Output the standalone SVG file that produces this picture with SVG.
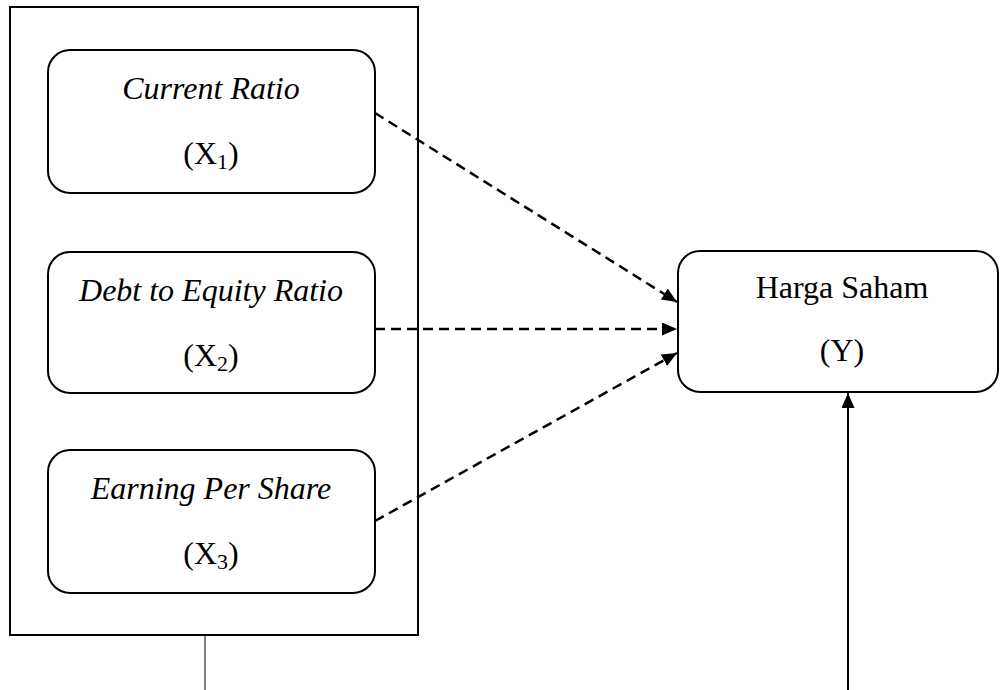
<svg xmlns="http://www.w3.org/2000/svg" width="1001" height="690" viewBox="0 0 1001 690">
<style>
.box{fill:#fff;stroke:#000;stroke-width:2}
.t{font-family:"Liberation Serif","Times New Roman",serif;font-size:32px;fill:#000;text-anchor:middle}
.i{font-style:italic}
.dash{stroke:#000;stroke-width:2.5;stroke-dasharray:10,6;fill:none}
.solid{stroke:#000;stroke-width:2;fill:none}
</style>
<defs>
<marker id="ah" viewBox="0 0 15 13" refX="15" refY="6.5" markerWidth="15" markerHeight="13" markerUnits="userSpaceOnUse" orient="auto">
<path d="M0,0 L15,6.5 L0,13 Z" fill="#000"/>
</marker>
</defs>
<rect width="1001" height="690" fill="#fff"/>
<g id="group-x">
<rect x="10" y="7" width="408" height="628" fill="none" stroke="#000" stroke-width="2"/>
</g>
<g id="x1">
<rect class="box" x="48" y="50" width="327" height="143" rx="22"/>
<text class="t i" x="211" y="99">Current Ratio</text>
<text class="t" x="211" y="164">(X<tspan font-size="22" dy="5">1</tspan><tspan dy="-5">)</tspan></text>
</g>
<g id="x2">
<rect class="box" x="48" y="252" width="327" height="141" rx="22"/>
<text class="t i" x="211" y="301">Debt to Equity Ratio</text>
<text class="t" x="211" y="366">(X<tspan font-size="22" dy="5">2</tspan><tspan dy="-5">)</tspan></text>
</g>
<g id="x3">
<rect class="box" x="48" y="450" width="327" height="143" rx="22"/>
<text class="t i" x="211" y="499">Earning Per Share</text>
<text class="t" x="211" y="564">(X<tspan font-size="22" dy="5">3</tspan><tspan dy="-5">)</tspan></text>
</g>
<g id="y">
<rect class="box" x="678" y="251" width="320" height="141" rx="22"/>
<text class="t" x="842" y="298">Harga Saham</text>
<text class="t" x="842" y="361">(Y)</text>
</g>
<g id="connectors">
<line class="dash" x1="375" y1="113" x2="677" y2="302" marker-end="url(#ah)"/>
<line class="dash" x1="375" y1="329" x2="677" y2="329" marker-end="url(#ah)"/>
<line class="dash" x1="375" y1="521" x2="677" y2="353" marker-end="url(#ah)"/>
<line class="solid" x1="848" y1="690" x2="848" y2="393" marker-end="url(#ah)"/>
<line x1="205" y1="636" x2="205" y2="690" stroke="#000" stroke-width="1"/>
</g>
</svg>
